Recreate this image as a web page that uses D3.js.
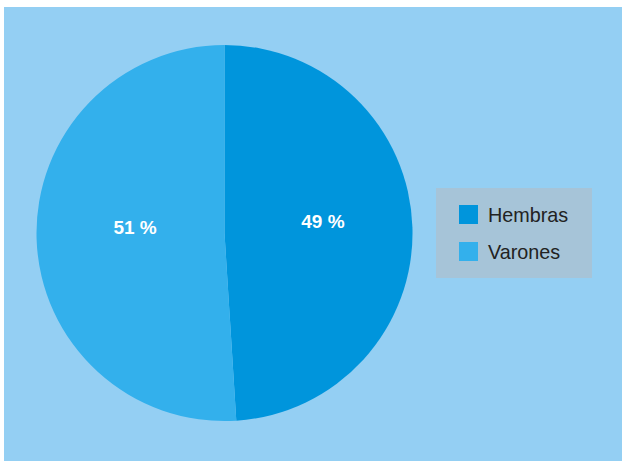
<!DOCTYPE html>
<html><head><meta charset="utf-8">
<script src="https://cdn.jsdelivr.net/npm/d3@7"></script>
<style>html,body{margin:0;padding:0;background:#fff;}svg{display:block;}</style>
</head><body>
<script>
const categories = ["Hembras", "Varones"];
const values = [49, 51];
const labels = ["49 %", "51 %"];
const colors = ["#0095DC", "#33B0EC"];

const W = 622, H = 461;
const svg = d3.select("body").append("svg").attr("width", W).attr("height", H);
svg.append("rect").attr("x", 4).attr("y", 7).attr("width", W - 4).attr("height", H - 7).attr("fill", "#94CFF3");

const cx = 224.5, cy = 233, r = 188;
const data = categories.map((c, i) => ({cat: c, value: values[i], label: labels[i], color: colors[i]}));
const pie = d3.pie().value(d => d.value).sort(null);
const arc = d3.arc().innerRadius(0).outerRadius(r);
const labelArc = d3.arc().innerRadius(r * 0.5).outerRadius(r * 0.5);
const g = svg.append("g").attr("transform", `translate(${cx},${cy})`);
const arcs = pie(data);
g.selectAll("path").data(arcs).enter().append("path")
  .attr("d", arc).attr("fill", d => d.data.color);
g.selectAll("text").data(arcs).enter().append("text")
  .attr("transform", d => { const c = labelArc.centroid(d); return `translate(${c[0] + 4.5},${c[1] - 2})`; })
  .attr("text-anchor", "middle")
  .attr("fill", "#fff").attr("font-family", "'Liberation Sans', Arial, sans-serif").attr("font-weight", "bold")
  .attr("font-size", 19).text(d => d.data.label);

const lg = svg.append("g");
lg.append("rect").attr("x", 436).attr("y", 188).attr("width", 156).attr("height", 90).attr("fill", "#A6C4D8");
data.forEach((d, i) => {
  const y = 205 + i * 37;
  lg.append("rect").attr("x", 459).attr("y", y).attr("width", 19).attr("height", 19).attr("fill", d.color);
  lg.append("text").attr("x", 488).attr("y", y + 17).attr("font-family", "'Liberation Sans', Arial, sans-serif")
    .attr("font-size", 19.8).attr("fill", "#222").text(d.cat);
});
</script>
</body></html>
